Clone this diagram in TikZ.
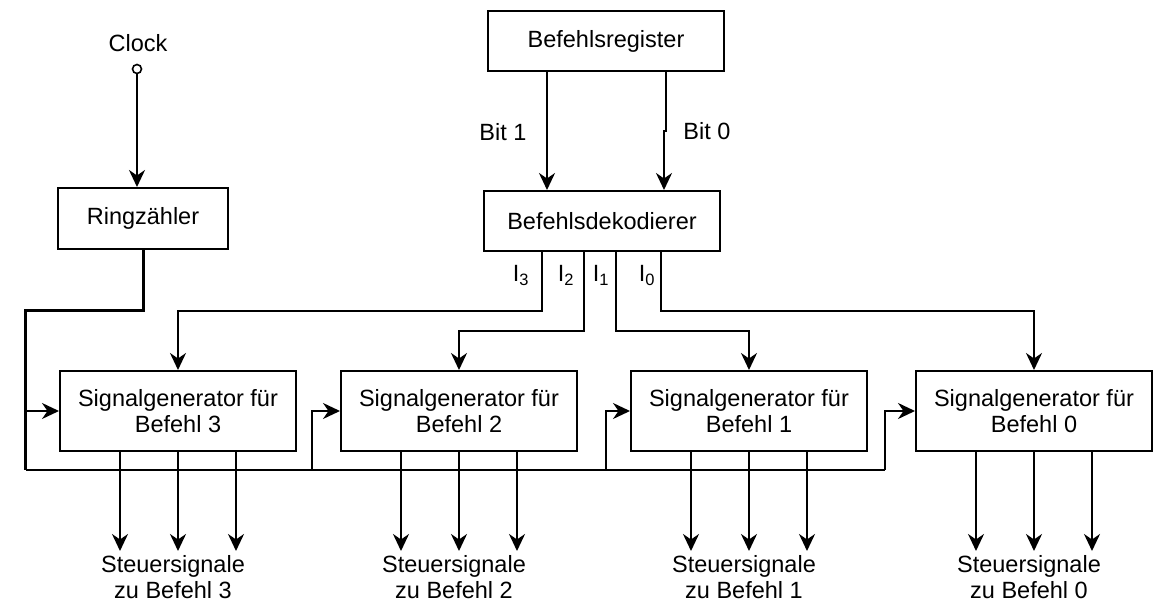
\documentclass[tikz,border=0pt]{standalone}
\usepackage{fontspec}
\setmainfont{Liberation Sans}
\usetikzlibrary{arrows.meta,calc}
\begin{document}
\begin{tikzpicture}[x=1pt,y=-1pt,
  font=\fontsize{23.5}{26}\selectfont,
  wire/.style={line width=2pt},
  thickwire/.style={line width=3pt},
  arr/.style={wire,-{Stealth[length=17pt,width=16pt,inset=5.5pt]}},
  box/.style={draw,line width=2pt,minimum width=236pt,minimum height=80pt,inner sep=0pt,align=center},
  lbl/.style={align=center,inner sep=0pt}]
\useasboundingbox (0,0) rectangle (1164,612);

% nodes
\node[lbl] (clocklbl) at (138,43) {Clock};
\node[circle,draw,line width=1.6pt,fill=white,minimum size=9pt,inner sep=0pt] (clock) at (137,69) {};
\node[box,minimum width=170pt,minimum height=61pt] (ring) at (143,218.5) {Ringzähler};
\node[box,minimum height=60pt] (reg) at (606,41) {Befehlsregister};
\node[box,minimum height=60pt] (dec) at (602,221) {Befehlsdekodierer};
\node[box] (sg3) at (178,411) {Signalgenerator für\\Befehl 3};
\node[box] (sg2) at (459,411) {Signalgenerator für\\Befehl 2};
\node[box] (sg1) at (749,411) {Signalgenerator für\\Befehl 1};
\node[box] (sg0) at (1034,411) {Signalgenerator für\\Befehl 0};

\node[lbl] (bit1) at (503,132) {Bit 1};
\node[lbl] (bit0) at (707,131) {Bit 0};
\node[lbl,anchor=base] (i3) at (521,282) {I\textsubscript{3}};
\node[lbl,anchor=base] (i2) at (566,282) {I\textsubscript{2}};
\node[lbl,anchor=base] (i1) at (601,282) {I\textsubscript{1}};
\node[lbl,anchor=base] (i0) at (647,282) {I\textsubscript{0}};

\foreach \n/\x in {3/178,2/459,1/749,0/1034}{
  \node[lbl] (st\n) at ($(\x,577)+(-5,0)$) {Steuersignale\\zu Befehl \n};
}

% clock to ring counter
\draw[arr] (clock.south) -- (clock.south |- ring.north);

% ring counter to bus
\coordinate (rk) at (143.5,310.5);
\coordinate (bl) at (25.5,310.5);
\coordinate (bb) at (25.5,470);
\coordinate (be) at (885,470);
\draw[thickwire] (ring.south -| rk) -- (rk) -- (bl) -- (bb);
\draw[wire] (bb) -- (be);
\coordinate (f3) at (25,411);
\coordinate (f2) at (312,470);
\coordinate (f1) at (606,470);
\draw[arr] (f3) -- (sg3.west);
\draw[arr] (f2) |- (sg2.west);
\draw[arr] (f1) |- (sg1.west);
\draw[arr] (be) |- (sg0.west);

% register to decoder
\coordinate (r1) at (547,71);
\coordinate (r0) at (666,71);
\coordinate (r0m) at (666,131);
\coordinate (r0n) at (664,131);
\draw[arr] (r1) -- (r1 |- dec.north);
\draw[arr] (r0) -- (r0m) -- (r0n) -- (r0n |- dec.north);

% decoder outputs
\coordinate (d3) at (542,251);
\coordinate (d2) at (584,251);
\coordinate (d1) at (616,251);
\coordinate (d0) at (661,251);
\draw[arr] (d3) |- (178,311) -- (sg3.north);
\draw[arr] (d2) |- (459,331) -- (sg2.north);
\draw[arr] (d1) |- (749,331) -- (sg1.north);
\draw[arr] (d0) |- (1034,311) -- (sg0.north);

% control signal outputs
\foreach \n in {3,2,1,0}{
  \foreach \dx in {-58,0,58}{
    \draw[arr] ($(sg\n.south)+(\dx,0)$) -- ($(sg\n.south)+(\dx,99)$);
  }
}
\end{tikzpicture}
\end{document}
